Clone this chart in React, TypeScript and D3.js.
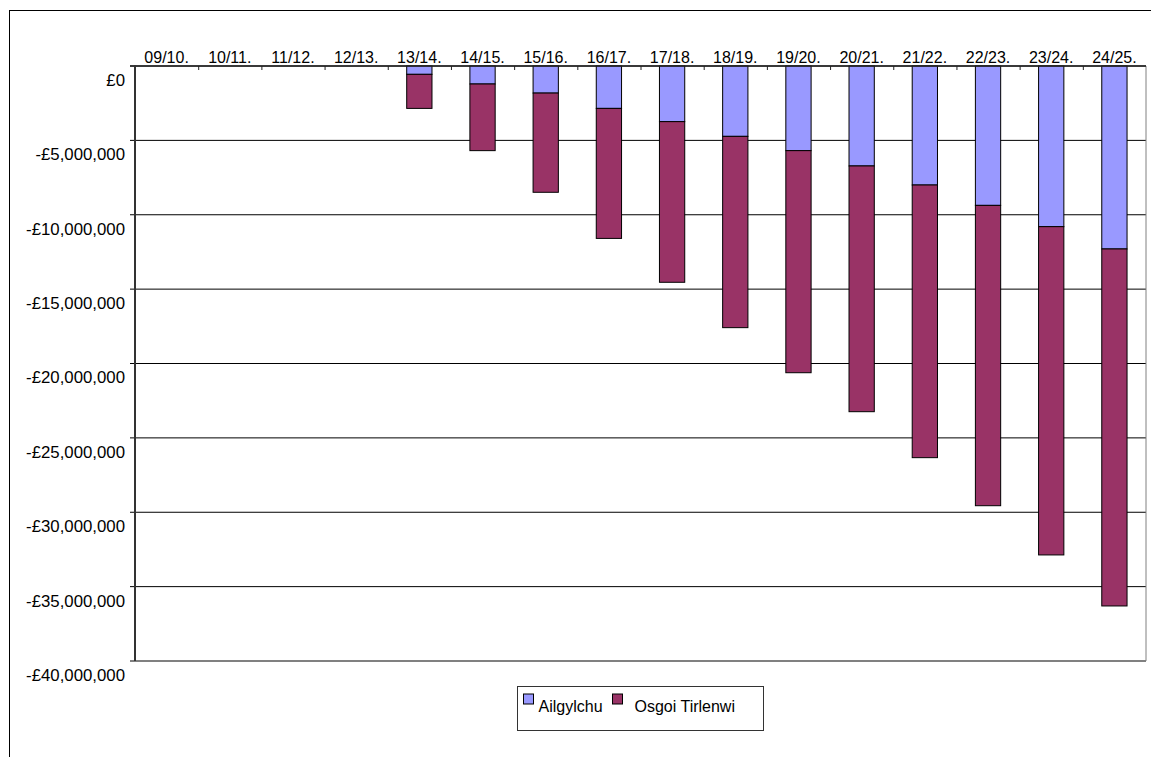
import { format, scaleBand, scaleLinear, stack } from 'd3'

const years = [
  '09/10.', '10/11.', '11/12.', '12/13.', '13/14.', '14/15.', '15/16.', '16/17.',
  '17/18.', '18/19.', '19/20.', '20/21.', '21/22.', '22/23.', '23/24.', '24/25.',
]
// values in £, negative (savings shown below zero)
const ailgylchu = [
  0, 0, 0, 0, -560000, -1210000, -1820000, -2850000,
  -3740000, -4730000, -5690000, -6720000, -8000000, -9370000, -10800000, -12300000,
]
const osgoiTirlenwi = [
  0, 0, 0, 0, -2290000, -4480000, -6670000, -8740000,
  -10800000, -12860000, -14930000, -16520000, -18330000, -20190000, -22070000, -24000000,
]
const seriesNames = ['Ailgylchu', 'Osgoi Tirlenwi']
const seriesColors = ['#9999FF', '#993366']
const yDomain = [-40000000, 0]

const W = 1151
const H = 757
const margin = { top: 66, left: 135, right: 5, bottom: 96 }
const font = '"Liberation Sans", Arial, sans-serif'

export default function App() {
  const innerW = W - margin.left - margin.right
  const innerH = H - margin.top - margin.bottom

  const x = scaleBand().domain(years).range([margin.left, margin.left + innerW]).paddingInner(0.6).paddingOuter(0.3)
  const xCat = scaleBand().domain(years).range([margin.left, margin.left + innerW])
  const y = scaleLinear().domain(yDomain).range([margin.top + innerH, margin.top])

  const rows = years.map((yr, i) => ({ year: yr, a: ailgylchu[i], b: osgoiTirlenwi[i] }))
  const stacked = stack<{ year: string; a: number; b: number }>()
    .keys(['a', 'b'])
    .offset((series, order) => {
      // stack downward from zero
      for (let j = 0; j < series[0].length; j++) {
        let acc = 0
        for (const k of order) {
          const v = series[k][j][1] - series[k][j][0]
          series[k][j][0] = acc
          acc += v
          series[k][j][1] = acc
        }
      }
    })(rows)

  const yTicks = y.ticks(8)
  const fmt = (v: number) => (v < 0 ? '-£' : '£') + format(',')(Math.abs(v))
  const plotRight = margin.left + innerW
  const plotBottom = margin.top + innerH
  const labelX = margin.left - 10

  return (
    <svg
      width={W}
      height={H}
      style={{ position: 'absolute', left: 0, top: 0, background: '#fff', fontFamily: font }}
    >
      <rect x={9.5} y={10.5} width={W + 20} height={H + 20} fill="#fff" stroke="#000" />

      {/* gridlines */}
      {yTicks.map((t) => (
        <line key={t} x1={margin.left - 5} x2={plotRight} y1={y(t)} y2={y(t)} stroke="#000" strokeWidth={1} />
      ))}
      <line x1={plotRight} x2={plotRight} y1={margin.top} y2={plotBottom} stroke="#808080" />
      <line x1={margin.left} x2={plotRight} y1={plotBottom + 0.5} y2={plotBottom + 0.5} stroke="#808080" />

      {/* bars */}
      {stacked.map((s, si) =>
        s.map((d) =>
          d[1] === d[0] ? null : (
            <rect
              key={`${si}-${d.data.year}`}
              x={x(d.data.year)}
              width={x.bandwidth()}
              y={y(d[0])}
              height={y(d[1]) - y(d[0])}
              fill={seriesColors[si]}
              stroke="#000"
              strokeWidth={1}
            />
          ),
        ),
      )}

      {/* top x axis */}
      <line x1={margin.left - 5} x2={plotRight} y1={margin.top} y2={margin.top} stroke="#222" strokeWidth={1.5} />
      {years.map((yr) => (
        <line
          key={'t' + yr}
          x1={xCat(yr)! + 0.5}
          x2={xCat(yr)! + 0.5}
          y1={margin.top}
          y2={margin.top + 4}
          stroke="#222"
        />
      ))}
      {years.map((yr) => (
        <text key={'l' + yr} x={xCat(yr)! + xCat.bandwidth() / 2} y={margin.top - 3.5} textAnchor="middle" fontSize={16}>
          {yr}
        </text>
      ))}

      {/* left y axis */}
      <line x1={margin.left} x2={margin.left} y1={margin.top - 1} y2={plotBottom} stroke="#333" strokeWidth={2} />
      {yTicks.map((t) => (
        <text
          key={'y' + t}
          x={labelX}
          y={y(t) + 20}
          textAnchor="end"
          fontSize={16}
          transform={`translate(${labelX},0) scale(1.05,1) translate(${-labelX},0)`}
        >
          {fmt(t)}
        </text>
      ))}

      {/* legend */}
      <g transform="translate(517.5,686.5)">
        <rect width={246} height={44} fill="#fff" stroke="#333" />
        {seriesNames.map((n, i) => {
          const ox = i === 0 ? 6 : 95
          const tx = i === 0 ? 21 : 117
          return (
            <g key={n}>
              <rect x={ox} y={7.5} width={10} height={10} fill={seriesColors[i]} stroke="#000" />
              <text x={tx} y={25} fontSize={16}>
                {n}
              </text>
            </g>
          )
        })}
      </g>
    </svg>
  )
}
